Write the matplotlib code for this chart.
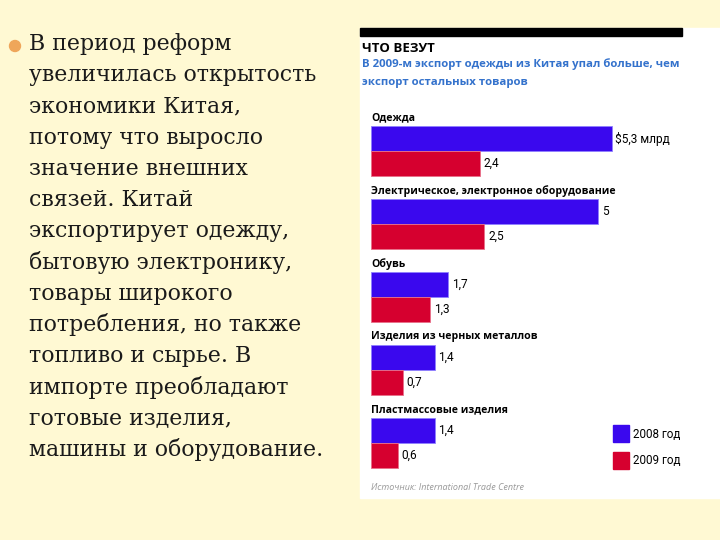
import matplotlib
matplotlib.use("Agg")
import matplotlib.pyplot as plt
from matplotlib.patches import Rectangle, Ellipse

# ---- data ----
categories = ["Одежда", "Электрическое, электронное оборудование", "Обувь",
              "Изделия из черных металлов", "Пластмассовые изделия"]
exports_2008 = [5.3, 5.0, 1.7, 1.4, 1.4]
exports_2009 = [2.4, 2.5, 1.3, 0.7, 0.6]
series_labels = ["2008 год", "2009 год"]

bullet_lines = ["В период реформ", "увеличилась открытость", "экономики Китая,",
                "потому что выросло", "значение внешних", "связей. Китай",
                "экспортирует одежду,", "бытовую электронику,", "товары широкого",
                "потребления, но также", "топливо и сырье. В", "импорте преобладают",
                "готовые изделия,", "машины и оборудование."]

W, H = 720, 540
BG = "#FFF9D3"
BLUE = "#3A08EE"
RED = "#D6002F"
SANS = ["Open Sans", "DejaVu Sans"]
NARROW = ["Liberation Sans Narrow", "Roboto", "DejaVu Sans"]


def fx(x):
    return x / W


def fy(y):
    return 1 - y / H


fig = plt.figure(figsize=(7.2, 5.4), dpi=100, facecolor=BG)

# left bullet text
fig.patches.append(Ellipse((fx(15), fy(46)), 11 / W, 11 / H, transform=fig.transFigure,
                           color="#EFA65A", zorder=2))
for i, line in enumerate(bullet_lines):
    fig.text(fx(29), fy(44 + 31.2 * i), line, fontsize=15.8, family="DejaVu Serif",
             color="#1a1a1a", va="center", ha="left")

# chart panel
fig.patches.append(Rectangle((fx(360), fy(498)), fx(360), (498 - 28) / H,
                             transform=fig.transFigure, color="white", zorder=0))
fig.patches.append(Rectangle((fx(360), fy(36)), fx(322), 8 / H,
                             transform=fig.transFigure, color="black", zorder=1))
fig.text(fx(362), fy(48), "ЧТО ВЕЗУТ", fontsize=9.5, weight="bold", family=SANS,
         color="black", va="center")
fig.text(fx(362), fy(64), "В 2009-м экспорт одежды из Китая упал больше, чем",
         fontsize=8.2, weight="bold", family=SANS, color="#3472CC", va="center")
fig.text(fx(362), fy(82), "экспорт остальных товаров",
         fontsize=8.2, weight="bold", family=SANS, color="#3472CC", va="center")

# bar axes: 45.4 px per billion, 73 px per category block
ax = fig.add_axes([fx(371), fy(480), fx(720 - 371), (480 - 100) / H])
ax.set_zorder(3)
ax.set_xlim(0, (720 - 371) / 45.4)
ax.set_ylim((480 - 117) / 73, (100 - 117) / 73)
ax.axis("off")

bh = 24.5 / 73
for i, (cat, v8, v9) in enumerate(zip(categories, exports_2008, exports_2009)):
    ax.text(0, i + 0.01, cat, fontsize=7.6, weight="bold", family=SANS, va="center",
            ha="left")
    y8 = i + 0.295
    y9 = i + 0.64
    ax.barh(y8, v8, height=bh, color=BLUE, edgecolor="#8F80FF", linewidth=0.6)
    ax.barh(y9, v9, height=bh, color=RED, edgecolor="#E8708A", linewidth=0.6)
    lab8 = f"${v8:g} млрд".replace(".", ",") if i == 0 else f"{v8:g}".replace(".", ",")
    ax.text(v8 + 0.08, y8, lab8, fontsize=8.6, family=NARROW, va="center", ha="left")
    ax.text(v9 + 0.08, y9, f"{v9:g}".replace(".", ","), fontsize=8.6, family=NARROW,
            va="center", ha="left")

# legend
for k, (lab, col) in enumerate(zip(series_labels, [BLUE, RED])):
    ytop = 425 + 27 * k
    fig.patches.append(Rectangle((fx(613), fy(ytop + 17)), fx(16), 17 / H,
                                 transform=fig.transFigure, color=col, zorder=2))
    fig.text(fx(633), fy(ytop + 9), lab, fontsize=8.4, family=NARROW, va="center")

fig.text(fx(371), fy(488), "Источник: International Trade Centre", fontsize=6.5,
         style="italic", family=SANS, color="#999999", va="center")

fig.savefig("out.png", dpi=100, facecolor=BG)
